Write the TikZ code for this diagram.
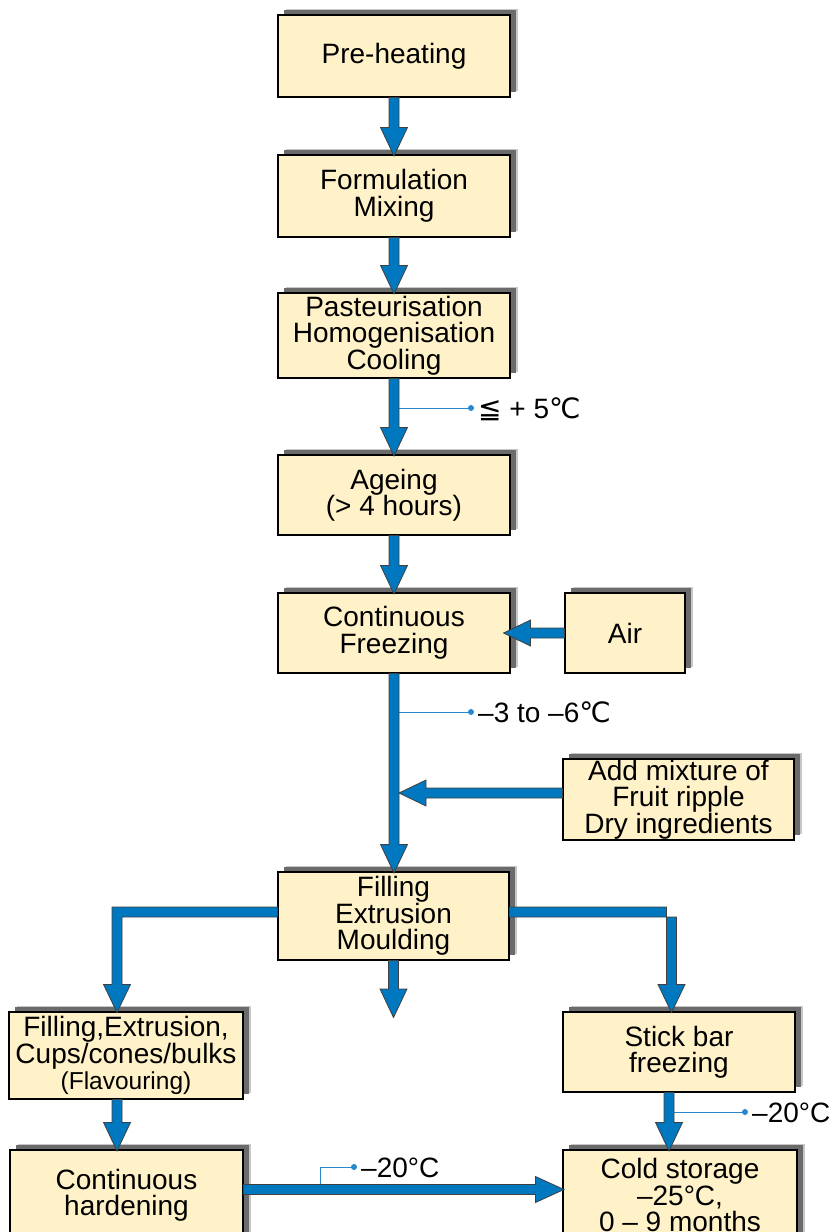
\documentclass[tikz,border=0pt]{standalone}
\usepackage{fontspec}
\setmainfont{Liberation Sans}
\newfontfamily\sym{DejaVu Sans}
\usetikzlibrary{calc,shadows}
\definecolor{boxfill}{RGB}{255,242,200}
\definecolor{arrowblue}{RGB}{0,120,192}
\definecolor{tagblue}{RGB}{40,135,205}
\tikzset{
  box/.style={draw=black, line width=1.1pt, fill=boxfill, align=center, inner sep=0pt,
    minimum width=232pt, minimum height=82pt,
    font=\fontsize{28}{26.5}\selectfont,
    general shadow={fill=black!22, shadow xshift=7.5pt, shadow yshift=6.5pt},
    general shadow={fill=black!58, shadow xshift=6pt, shadow yshift=5pt}},
  fat/.style={fill=arrowblue, draw=black!75, line width=0.8pt, line join=miter},
  tag/.style={draw=tagblue, line width=0.8pt},
  tagdot/.style={fill=tagblue},
  tagtext/.style={anchor=base west, inner sep=0pt, font=\fontsize{28}{28}\selectfont}
}
% vertical fat arrow: x from #1, tip at y of #2
\newcommand{\vfat}[2]{\path[fat] let \p1=(#1), \p2=(#2) in
  (\x1-5pt,\y1) -- (\x1-5pt,\y2+27pt) -- (\x1-13.5pt,\y2+27pt) -- (\x1,\y2-1.5pt)
  -- (\x1+13.5pt,\y2+27pt) -- (\x1+5pt,\y2+27pt) -- (\x1+5pt,\y1) -- cycle;}
% horizontal fat arrow to the left: y from #1, tip at x of #2
\newcommand{\hfatl}[2]{\path[fat] let \p1=(#1), \p2=(#2) in
  (\x1,\y1+5pt) -- (\x2+27pt,\y1+5pt) -- (\x2+27pt,\y1+13pt) -- (\x2,\y1)
  -- (\x2+27pt,\y1-13pt) -- (\x2+27pt,\y1-5pt) -- (\x1,\y1-5pt) -- cycle;}
% horizontal fat arrow to the right
\newcommand{\hfatr}[2]{\path[fat] let \p1=(#1), \p2=(#2) in
  (\x1,\y1+5pt) -- (\x2-27pt,\y1+5pt) -- (\x2-27pt,\y1+13pt) -- (\x2+1.5pt,\y1)
  -- (\x2-27pt,\y1-13pt) -- (\x2-27pt,\y1-5pt) -- (\x1,\y1-5pt) -- cycle;}
% L-shaped: horizontal then down
\newcommand{\lfat}[2]{\path[fat] let \p1=(#1), \p2=(#2) in
  (\x1,\y1+5pt) -- (\x2-5pt,\y1+5pt) -- (\x2-5pt,\y2+27pt) -- (\x2-13.5pt,\y2+27pt) -- (\x2,\y2-1pt)
  -- (\x2+13.5pt,\y2+27pt) -- (\x2+5pt,\y2+27pt) -- (\x2+5pt,\y1-5pt) -- (\x1,\y1-5pt) -- cycle;}
\begin{document}
\begin{tikzpicture}[x=1pt,y=-1pt]
\useasboundingbox (0,0) rectangle (832,1232);
% boxes
\node[box] (pre) at (394,56) {Pre-heating};
\node[box] (form) at (394,196) {Formulation\\Mixing};
\node[box, minimum height=85pt] (past) at (394,335.5) {Pasteurisation\\Homogenisation\\Cooling};
\node[box, minimum height=80pt] (age) at (394,495) {Ageing\\(> 4 hours)};
\node[box, minimum height=80pt] (freeze) at (394,633) {Continuous\\Freezing};
\node[box, minimum width=120pt, minimum height=80pt] (air) at (625,633) {Air};
\node[box, minimum width=231pt, minimum height=81pt] (add) at (678.5,799.5) {Add mixture of\\Fruit ripple\\Dry ingredients};
\node[box, minimum width=231pt, minimum height=88pt] (fill) at (393.5,916) {Filling\\Extrusion\\Moulding};
\node[box, minimum width=234pt, minimum height=87pt] (cups) at (126,1055.5) {Filling,Extrusion,\\Cups/cones/bulks\\{\fontsize{24.5}{26.5}\selectfont(Flavouring)}};
\node[box, minimum height=80pt] (stick) at (679,1052) {Stick bar\\freezing};
\node[box, minimum width=233pt, minimum height=90pt] (hard) at (126.5,1195) {Continuous\\hardening};
\node[box, minimum width=234pt, minimum height=90pt] (cold) at (680,1195) {Cold storage\\–25°C,\\0 – 9 months};
\coordinate (fillend) at (394,1016);
% temperature tags
\coordinate (d1) at (471,408);
\coordinate (d2) at (471,712);
\coordinate (d3) at (745,1112);
\coordinate (d4) at (354,1167);
\coordinate (k4) at (320,1189);
\draw[tag] (d1 -| past.south) -- (d1);
\draw[tag] (d2 -| freeze.south) -- (d2);
\draw[tag] ($(d3 -| stick.south)+(-10,0)$) -- (d3);
\draw[tag] (k4) |- (d4);
\foreach \d in {d1,d2,d3,d4} \fill[tagdot] (\d) circle (3pt);
\node[tagtext] (l1) at ($(d1)+(7,10)$) {{\sym ≦} + 5{\sym ℃}};
\node[tagtext] (l2) at ($(d2)+(7,10)$) {–3 to –6{\sym ℃}};
\node[tagtext] (l3) at ($(d3)+(7,10)$) {–20°C};
\node[tagtext] (l4) at ($(d4)+(7,10)$) {–20°C};
% arrows
\vfat{pre.south}{form.north}
\vfat{form.south}{past.north}
\vfat{past.south}{age.north}
\vfat{age.south}{freeze.north}
\vfat{freeze.south}{fill.north}
\vfat{fill.south}{fillend}
\hfatl{air.west}{$(freeze.east)+(-7,0)$}
\hfatl{$(add.west)+(0,-6.5)$}{$(freeze.south)+(5,0)$}
\lfat{$(fill.west)+(0,-4)$}{$(cups.north)+(-9,0)$}
\lfat{$(fill.east)+(0,-4)$}{$(stick.north)+(-7.5,0)$}
\vfat{$(cups.south)+(-9,0)$}{hard.north}
\vfat{$(stick.south)+(-10,0)$}{cold.north}
\hfatr{$(hard.east)+(0,-5.5)$}{cold.west}
\end{tikzpicture}
\end{document}
